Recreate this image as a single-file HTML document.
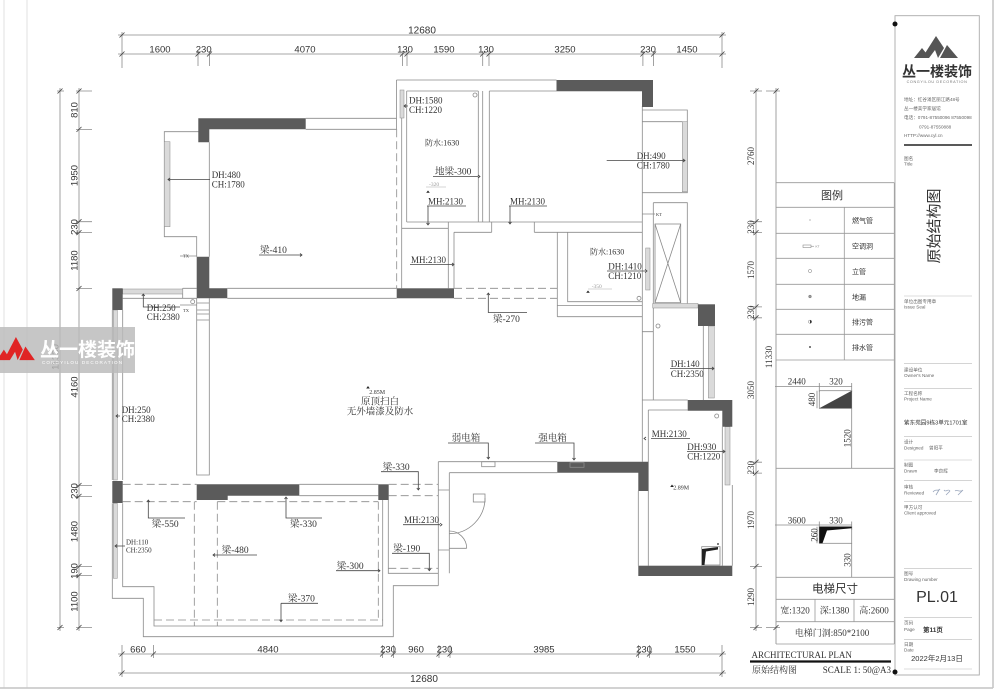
<!DOCTYPE html>
<html><head><meta charset="utf-8">
<style>
html,body{margin:0;padding:0;background:#fff;}
svg{display:block;}
.l{stroke:#8a8a8a;stroke-width:0.8;fill:none;}
.d{stroke:#8a8a8a;stroke-width:0.8;fill:none;stroke-dasharray:8 4;}
.k{stroke:#444;stroke-width:0.8;fill:none;}
.w{fill:#5b5b5b;}
.g{fill:#dadada;stroke:#8a8a8a;stroke-width:0.5;}
.ds{font-family:"Liberation Sans","Noto Sans CJK SC",sans-serif;font-size:9.5px;fill:#333;}
.sr{font-family:"Liberation Serif","Noto Serif CJK SC",serif;font-size:9px;fill:#333;}
.cj{font-family:"Liberation Sans","Noto Sans CJK SC",sans-serif;fill:#333;}
.tb{font-family:"Liberation Sans","Noto Sans CJK SC",sans-serif;font-size:4.6px;fill:#666;}
</style></head><body>
<svg width="1000" height="700" viewBox="0 0 1000 700" xmlns="http://www.w3.org/2000/svg">
<rect width="1000" height="700" fill="#fff"/>
<!-- page frame -->
<line x1="4" y1="0" x2="4" y2="688" stroke="#d4d4d4" stroke-width="0.7"/>
<line x1="27" y1="0" x2="27" y2="688" stroke="#d4d4d4" stroke-width="0.7"/>
<line x1="0" y1="688" x2="993" y2="688" stroke="#c4c4c4" stroke-width="1.5"/>
<line x1="993" y1="0" x2="993" y2="688" stroke="#c4c4c4" stroke-width="1.5"/>

<!-- ===== TOP DIMENSIONS ===== -->
<g class="l">
<path d="M118,35H726 M118,54H726 M122,32V68 M722,32V68 M198,51V66 M209.5,51V66 M402.5,51V66 M407,51V66 M482.7,51V66 M489,51V66 M642.9,51V66 M653.6,51V66"/>
</g>
<path class="k" d="M119.5,37.5L124.5,32.5 M719.5,37.5L724.5,32.5 M119.5,56.5L124.5,51.5 M195.5,56.5L200.5,51.5 M207,56.5L212,51.5 M400,56.5L405,51.5 M404.5,56.5L409.5,51.5 M480.2,56.5L485.2,51.5 M486.5,56.5L491.5,51.5 M640.4,56.5L645.4,51.5 M651.1,56.5L656.1,51.5 M719.5,56.5L724.5,51.5"/>
<g class="ds" text-anchor="middle">
<text x="422" y="33.5" font-size="10">12680</text>
<text x="160" y="52.5">1600</text>
<text x="203.7" y="52.5">230</text>
<text x="305" y="52.5">4070</text>
<text x="405" y="52.5">130</text>
<text x="444" y="52.5">1590</text>
<text x="486" y="52.5">130</text>
<text x="565" y="52.5">3250</text>
<text x="648" y="52.5">230</text>
<text x="687" y="52.5">1450</text>
</g>

<!-- ===== LEFT DIMENSIONS ===== -->
<g class="l">
<path d="M79,88V631 M60,88V631 M76,91H92 M76,129.4H92 M76,221.7H92 M76,232.6H92 M76,288.5H92 M76,485.5H92 M76,496.4H92 M76,566.5H92 M76,575.5H92 M76,627.5H92 M57,91H64 M57,627.5H64"/>
</g>
<path class="k" d="M76.5,93.5L81.5,88.5 M76.5,131.9L81.5,126.9 M76.5,224.2L81.5,219.2 M76.5,235.1L81.5,230.1 M76.5,291L81.5,286 M76.5,488L81.5,483 M76.5,498.9L81.5,493.9 M76.5,569L81.5,564 M76.5,578L81.5,573 M76.5,630L81.5,625 M57.5,93.5L62.5,88.5 M57.5,630L62.5,625"/>
<g class="ds" text-anchor="middle">
<text transform="translate(77.5,110) rotate(-90)">810</text>
<text transform="translate(77.5,175.5) rotate(-90)">1950</text>
<text transform="translate(77.5,227) rotate(-90)">230</text>
<text transform="translate(77.5,260.5) rotate(-90)">1180</text>
<text transform="translate(77.5,387) rotate(-90)">4160</text>
<text transform="translate(77.5,491) rotate(-90)">230</text>
<text transform="translate(77.5,531.5) rotate(-90)">1480</text>
<text transform="translate(77.5,571) rotate(-90)">190</text>
<text transform="translate(77.5,601.5) rotate(-90)">1100</text>
<text transform="translate(58.5,357) rotate(-90)">11330</text>
</g>

<!-- ===== RIGHT DIMENSIONS ===== -->
<g class="l">
<path d="M756,88V631 M776,88V644 M750,91H762 M750,221.7H762 M750,232.6H762 M750,306.9H762 M750,317.8H762 M750,462.2H762 M750,473.1H762 M750,566.4H762 M750,627.5H762 M766,91H780 M766,627.5H780"/>
</g>
<path class="k" d="M753.5,93.5L758.5,88.5 M753.5,224.2L758.5,219.2 M753.5,235.1L758.5,230.1 M753.5,309.4L758.5,304.4 M753.5,320.3L758.5,315.3 M753.5,464.7L758.5,459.7 M753.5,475.6L758.5,470.6 M753.5,568.9L758.5,563.9 M753.5,630L758.5,625 M773.5,93.5L778.5,88.5 M773.5,630L778.5,625"/>
<g class="sr" text-anchor="middle" font-size="9.5">
<text transform="translate(754,156) rotate(-90)">2760</text>
<text transform="translate(754,227) rotate(-90)">230</text>
<text transform="translate(754,270) rotate(-90)">1570</text>
<text transform="translate(754,312.3) rotate(-90)">230</text>
<text transform="translate(754,390) rotate(-90)">3050</text>
<text transform="translate(754,467.6) rotate(-90)">230</text>
<text transform="translate(754,520) rotate(-90)">1970</text>
<text transform="translate(754,597) rotate(-90)">1290</text>
<text transform="translate(772,357) rotate(-90)">11330</text>
</g>

<!-- ===== BOTTOM DIMENSIONS ===== -->
<g class="l">
<path d="M118,654H726 M118,673H726 M122,645V677 M722,645V677 M153.4,645V658 M382.6,645V658 M393.5,645V658 M439,645V658 M450,645V658 M638.6,645V658 M649.5,645V658"/>
</g>
<path class="k" d="M119.5,656.5L124.5,651.5 M150.9,656.5L155.9,651.5 M380.1,656.5L385.1,651.5 M391,656.5L396,651.5 M436.5,656.5L441.5,651.5 M447.5,656.5L452.5,651.5 M636.1,656.5L641.1,651.5 M647,656.5L652,651.5 M719.5,656.5L724.5,651.5 M119.5,675.5L124.5,670.5 M719.5,675.5L724.5,670.5"/>
<g class="ds" text-anchor="middle">
<text x="138" y="652.5">660</text>
<text x="268" y="652.5">4840</text>
<text x="388" y="652.5">230</text>
<text x="416" y="652.5">960</text>
<text x="444.5" y="652.5">230</text>
<text x="544" y="652.5">3985</text>
<text x="644" y="652.5">230</text>
<text x="685" y="652.5">1550</text>
<text x="424" y="682" font-size="10">12680</text>
</g>

<!-- ===== PLAN: thin lines ===== -->
<path class="l" d="
M305.7,118.3H396.5 M305.7,129.3H396.7 M396.5,80V129.3 M396.5,80H556.5 M401.7,90V288.3
M209.3,142.3V256.7 M199,131.7H164.3V236.7H196.7V256.7
M227.3,288.3H396.7 M227.3,298.3H396.7
M406.7,91H478.3 M406.7,91V222 M478.3,91V222 M482.7,91V222 M489.3,91H642.3 M489.3,91V222
M406.7,222H642.3 M401.7,228.3H448.3 M448.3,222V288.3 M454,232.3V288.3
M454,232.3H491.7 M534.3,232.3H557.3 M491.7,222V232.3 M534.3,222V232.3
M642.3,106V461.7
M642.3,110H687.3V192.7H642.3 M642.3,121.7H682.3
M653.3,202.7H687.3V303.5 M653.3,202.7V400 M642.3,214H655
M557.3,232.3H642.3 M557.3,232.3V316.7 M567.7,232.3V301.7H642.3 M557.3,305.5H642.3 M557.3,316.7H642.3
M642.3,331.7H653.3 M703.3,326V400 M642.3,400H687.7 M648.3,410H687.7
M648.3,410V565.7 M638.3,491V565.7 M722.3,426.7V565.7 M732.3,485V565.7
M438.3,461.7H557.3 M449.3,472.7H557.3 M438.3,461.7V585.7 M449.3,472.7V573.3 M438.3,490H449.3 M438.3,550H449.3
M196.7,298.3V475H209.3V298.3
M122.7,298.3H196.7 M182.7,288.3V298.3 M182.7,288.3H196.7
M112.3,310V480 M122.7,310V480 M112.3,503.3V578.3 M122.7,503.3V578.3
M112.3,578.3V598.3H143.3V636.7H393.3V585.7H438.3
M122.7,578.3V586.7H154V626H382.7V500
M388.3,500V573.3H438.3
M299.3,484.3H378.3 M299.3,495.7H378.3
M196.7,303H209.3 M196.7,310H209.3 M196.7,314H209.3 M196.7,320H209.3
M180,256H196.7 M180,305H196.7
"/>
<!-- shaft -->
<rect class="l" x="655" y="224" width="25.7" height="78.7"/>
<path class="l" d="M655,224L680.7,302.7 M680.7,224L655,302.7"/>
<!-- dashed beams -->
<path class="d" d="
M396.7,129.3V288.3 M454,288.3H557.3 M454,298.3H557.3
M122.7,484.3H196.7 M122.7,501.7H196.7 M388.7,484.3H438.3 M388.7,495.7H438.3
M194.3,501.7V626 M217.3,501.7V626 M217.3,501.7H378.3 M378.3,501.7V620 M154,620H382.7
M388.3,568.3H438.3"/>
<!-- windows -->
<g class="g">
<rect x="164.3" y="141.7" width="5.7" height="85"/>
<rect x="400" y="90" width="4" height="28"/>
<rect x="682.3" y="121.7" width="5" height="70"/>
<rect x="645.7" y="248" width="4.3" height="42"/>
<rect x="652.7" y="303.5" width="45.3" height="4.5"/>
<rect x="708.3" y="326" width="6" height="72"/>
<rect x="725" y="426.7" width="5" height="58.3"/>
<rect x="122.7" y="289" width="60" height="5"/>
<rect x="113.3" y="310" width="4" height="170"/>
<rect x="113.3" y="503.3" width="4" height="75"/>
</g>
<!-- dark walls -->
<g class="w">
<polygon points="198.3,118.3 305.7,118.3 305.7,129.3 209.3,129.3 209.3,142.3 198.3,142.3"/>
<polygon points="196.7,256.7 209.3,256.7 209.3,288.3 227.3,288.3 227.3,298.3 196.7,298.3"/>
<rect x="112.3" y="288.3" width="10.4" height="21.7"/>
<rect x="396.7" y="288.3" width="57.3" height="10"/>
<polygon points="556.5,80 653,80 653,107 642,107 642,91 556.5,91"/>
<rect x="698" y="304.3" width="17" height="21.7"/>
<polygon points="687.7,400 732.3,400 732.3,426.7 722.3,426.7 722.3,410.7 687.7,410.7"/>
<polygon points="557.3,461.7 648.3,461.7 648.3,491 638.3,491 638.3,472.7 557.3,472.7"/>
<rect x="638.3" y="565.7" width="94" height="10.3"/>
<rect x="112.3" y="481" width="10.4" height="22"/>
<polygon points="196.7,484.3 299.3,484.3 299.3,495.7 227.7,495.7 227.7,500 196.7,500"/>
<rect x="378.3" y="484.3" width="10.4" height="15.7"/>
</g>
<!-- door -->
<rect class="l" x="473.3" y="494" width="11.7" height="8"/>
<path class="l" d="M485,498 A35.7,35.7 0 0 1 449.3,533.7 M466.7,548.3 A17.4,17.4 0 0 0 449.3,531 M449.3,548.3H466.7"/>
<!-- circles / boxes -->
<g class="l">
<circle cx="475" cy="95" r="2"/>
<circle cx="639" cy="298.3" r="2"/>
<circle cx="658" cy="326" r="2"/>
<circle cx="716.7" cy="416" r="2"/>
<circle cx="192.7" cy="301.7" r="2"/>
<rect x="481.7" y="461.7" width="13.3" height="5"/>
<rect x="570" y="462.7" width="14" height="4.6"/>
<rect x="701.7" y="546.7" width="18.3" height="18.3"/>
</g>
<polygon points="702,565 702,549 718,547 718,549.5 706,551.5 704.5,565" fill="#222"/>
<circle cx="718" cy="544" r="0.9" fill="#222"/>

<!-- leaders and arrows -->
<path class="k" stroke-width="0.6" d="
M168,179.5H210 M170,178L168,179.5L170,181
M404,106H408 M406,104.5L404,106L406,107.5
M433,176.5H478 M478,175L480,176.5L478,178
M427,206H466 M428,206V225 M426.5,223L428,225L429.5,223
M259,255H302 M300,253.5L302,255L300,256.5
M410,264.5H453 M452,263L454,264.5L452,266
M509,206H547 M510,206V224 M508.5,222L510,224L511.5,222
M606.7,160.5H685 M683,159L685,160.5L683,162
M607,271H645 M645,269.5L647,271L645,272.5
M488.3,293V312.5H527 M486.8,295L488.3,293L489.8,295
M143.3,294V307H180 M141.8,296L143.3,294L144.8,296
M116,416H120 M118,414.5L116,416L118,417.5
M448,443H488.3V459 M486.8,457L488.3,459L489.8,457
M535,443H574V460 M572.5,458L574,460L575.5,458
M670,368.5H714 M712,367L714,368.5L712,370
M651,438.5H690 M646,437L644,438.5L646,440
M687,451.5H725 M723,450L725,451.5L723,453
M381,471.7H418.3V490 M416.8,488L418.3,490L419.8,488
M148.3,500V518H185 M146.8,502L148.3,500L149.8,502
M286,497V518H322 M284.5,499L286,497L287.5,499
M115,546H125 M117,544.5L115,546L117,547.5
M403,524.7H440 M440,523.2L442,524.7L440,526.2
M213,555H257 M215,553.5L213,555L215,556.5
M392,553.3H429.3V570.7 M427.8,568.7L429.3,570.7L430.8,568.7
M336,570.7H380 M378,569.2L380,570.7L378,572.2
M281,603.3H318 M281,603.3V621.7 M279.5,619.7L281,621.7L282.5,619.7
"/>
<path d="M428,190.5l-1.8,2.2h3.6z M588,290.5l-1.8,2.2h3.6z M368,386l-1.8,2.5h3.6z M672,484.5l-1.8,2.5h3.6z" fill="#222"/>
<line x1="426" y1="187" x2="446" y2="187" stroke="#aaa" stroke-width="0.5"/>
<line x1="588" y1="289" x2="612" y2="289" stroke="#aaa" stroke-width="0.5"/>

<!-- plan labels -->
<g class="sr">
<text x="211.7" y="178">DH:480</text><text x="211.7" y="187.5">CH:1780</text>
<text x="409" y="103.5">DH:1580</text><text x="409" y="113">CH:1220</text>
<text x="425" y="145.5" font-size="8">防水:1630</text>
<text x="435" y="174.5" font-size="9.5">地梁-300</text>
<text x="429" y="186" font-size="5.5" fill="#999">-320</text>
<text x="428" y="204.5">MH:2130</text>
<text x="260" y="253" font-size="9.5">梁-410</text>
<text x="411" y="263">MH:2130</text>
<text x="510" y="204.5">MH:2130</text>
<text x="636.7" y="159">DH:490</text><text x="636.7" y="168.5">CH:1780</text>
<text x="590" y="254.5" font-size="8">防水:1630</text>
<text x="608.3" y="269.5">DH:1410</text><text x="608.3" y="279">CH:1210</text>
<text x="591.7" y="288" font-size="5.5" fill="#999">-350</text>
<text x="493" y="322" font-size="9.5">梁-270</text>
<text x="146.7" y="311">DH:250</text><text x="146.7" y="320">CH:2380</text>
<text x="369.3" y="394" font-size="6">2.85M</text>
<text x="380" y="404.5" font-size="9.5" text-anchor="middle">原顶扫白</text>
<text x="380" y="414.5" font-size="9.5" text-anchor="middle">无外墙漆及防水</text>
<text x="121.7" y="413">DH:250</text><text x="121.7" y="422">CH:2380</text>
<text x="451.7" y="441" font-size="9.5">弱电箱</text>
<text x="538.3" y="441" font-size="9.5">强电箱</text>
<text x="670.7" y="367">DH:140</text><text x="670.7" y="377">CH:2350</text>
<text x="651.7" y="437">MH:2130</text>
<text x="687.3" y="450">DH:930</text><text x="687.3" y="459.7">CH:1220</text>
<text x="673.3" y="489.7" font-size="6">2.89M</text>
<text x="382.7" y="470" font-size="9.5">梁-330</text>
<text x="151.7" y="527" font-size="9.5">梁-550</text>
<text x="290" y="527" font-size="9.5">梁-330</text>
<text x="126" y="544.5" font-size="7">DH:110</text><text x="126" y="552.5" font-size="7">CH:2350</text>
<text x="404" y="523">MH:2130</text>
<text x="221.7" y="553" font-size="9.5">梁-480</text>
<text x="393.3" y="551.5" font-size="9.5">梁-190</text>
<text x="336.7" y="569" font-size="9.5">梁-300</text>
<text x="288" y="601.5" font-size="9.5">梁-370</text>
<text x="656" y="216" font-size="4.5">KT</text>
<text x="183" y="257.5" font-size="4.5">TX</text>
<text x="183" y="312" font-size="4.5">TX</text>
</g>

<!-- ===== LEGEND TABLE ===== -->
<g stroke="#999" stroke-width="0.8" fill="none">
<path d="M776,182.7H894.3 M776,207.3H894.3 M776,233.3H894.3 M776,258.3H894.3 M776,284.3H894.3 M776,309.3H894.3 M776,334.3H894.3 M776,360H894.3 M844.3,207.3V360 M894.3,182.7V644
M776,468.3H894.3 M776,577.3H894.3 M776,599.3H894.3 M776,621.7H894.3 M776,644H894.3 M815,599.3V621.7 M854,599.3V621.7"/>
</g>
<text class="cj" x="832" y="199" font-size="11" text-anchor="middle">图例</text>
<g class="cj" font-size="7">
<text x="852" y="223">燃气管</text>
<text x="852" y="248.5">空调洞</text>
<text x="852" y="274">立管</text>
<text x="852" y="299.5">地漏</text>
<text x="852" y="324.5">排污管</text>
<text x="852" y="350">排水管</text>
</g>
<g stroke="#777" stroke-width="0.5" fill="none">
<line x1="809" y1="220" x2="811" y2="220"/>
<rect x="803" y="245" width="8" height="2.5"/>
<line x1="811" y1="246.2" x2="814" y2="246.2"/>
<circle cx="810" cy="271" r="1.6"/>
<circle cx="810" cy="296.5" r="1.4" fill="#999"/>
<circle cx="810" cy="321.7" r="1.6"/>
</g>
<path d="M810,320.1A1.6,1.6 0 0 1 810,323.3Z" fill="#333"/>
<circle cx="810" cy="347" r="1" fill="#555"/>
<text x="815.5" y="247.5" font-size="3" fill="#777" font-family="Liberation Sans,sans-serif">KT</text>

<!-- elevator diagrams -->
<g class="l">
<path d="M775,386.5H852 M819.3,383V392 M851.7,383V392 M817,390.7V408.3 M851.7,408.3V468.3 M775,525H852 M819.3,521.5V530 M851.7,521.5V530 M817,526.7V543.3 M851.7,543.3V577.3"/>
<rect x="819.3" y="390.7" width="32.4" height="17.6"/>
<rect x="819.3" y="526.7" width="32.4" height="16.6"/>
</g>
<polygon points="819.3,408.3 851.7,390.7 851.7,408.3" fill="#444"/>
<polygon points="819.3,526.7 851.7,526.7 851.7,528.2 827,530.5 822.5,543.3 819.3,543.3" fill="#111"/>
<g class="sr" font-size="9.5">
<text x="796.7" y="384.5" text-anchor="middle">2440</text>
<text x="836" y="384.5" text-anchor="middle">320</text>
<text x="796.7" y="523.5" text-anchor="middle">3600</text>
<text x="836" y="523.5" text-anchor="middle">330</text>
<text transform="translate(815,399.5) rotate(-90)" text-anchor="middle">480</text>
<text transform="translate(850.3,438.3) rotate(-90)" text-anchor="middle">1520</text>
<text transform="translate(817.5,535) rotate(-90)" text-anchor="middle">260</text>
<text transform="translate(850.3,560) rotate(-90)" text-anchor="middle">330</text>
</g>
<text class="cj" x="835" y="592.5" font-size="11.5" text-anchor="middle">电梯尺寸</text>
<g class="sr" font-size="8.5" text-anchor="middle">
<text x="795" y="613.5">宽:1320</text>
<text x="834.5" y="613.5">深:1380</text>
<text x="874" y="613.5">高:2600</text>
<text x="832" y="636">电梯门洞:850*2100</text>
</g>
<text class="sr" x="751.5" y="658" font-size="7.5">ARCHITECTURAL PLAN</text>
<line x1="750" y1="661.5" x2="891" y2="661.5" stroke="#111" stroke-width="2.2"/>
<text class="sr" x="752" y="673" font-size="8">原始结构图</text>
<text class="sr" x="891" y="673" font-size="7.5" text-anchor="end">SCALE 1: 50@A3</text>

<!-- ===== TITLE BLOCK ===== -->
<rect x="895" y="15.7" width="84.3" height="659.3" fill="none" stroke="#aaa" stroke-width="0.9"/>
<circle cx="895" cy="24" r="2.5" fill="#111"/>
<circle cx="895" cy="672" r="2.5" fill="#111"/>
<g transform="translate(914,36)" fill="#555">
<path d="M0,22 L8,12 L12,17 L8,22 Z M8,22 L22,0 L30,12 L24,22 L21,14 L15,22 Z M26,22 L33,9 L44,22 Z"/>
</g>
<text class="cj" x="937" y="76.5" font-size="14" font-weight="bold" fill="#555" text-anchor="middle">丛一楼装饰</text>
<text x="937" y="83" font-family="Liberation Sans,sans-serif" font-size="3.8" fill="#777" text-anchor="middle" letter-spacing="0.6">CONGYILOU DECORATION</text>
<g class="tb" fill="#555">
<text x="904" y="101">地址：红谷滩区丽江路48号</text>
<text x="904" y="110">丛一楼美学家居馆</text>
<text x="904" y="119">电话：0791-87550096 87550098</text>
<text x="919" y="128.5">0791-87550888</text>
<text x="904" y="137">HTTP://www.cyl.cn</text>
</g>
<line x1="904" y1="145" x2="972" y2="145" stroke="#222" stroke-width="1.6"/>
<g stroke="#bbb" stroke-width="0.6">
<path d="M904,296H972 M904,363.3H972 M904,388.3H972 M904,436.7H972 M904,460H972 M904,480.7H972 M904,501.7H972 M904,568.3H972 M904,617.7H972 M904,639.3H972 M904,669H972"/>
</g>
<g class="tb">
<text x="904" y="160">图名</text><text x="904" y="165.5">Title</text>
<text x="904" y="303">单位出图专用章</text><text x="904" y="308.5">Issue Seal</text>
<text x="904" y="371.5">建设单位</text><text x="904" y="377">Owner's Name</text>
<text x="904" y="395">工程名称</text><text x="904" y="400.5">Project Name</text>
<text x="904" y="443.5">设计</text><text x="904" y="449.5">Designed</text><text x="929" y="449.5">曾阳平</text>
<text x="904" y="466.5">制图</text><text x="904" y="472.5">Drawn</text><text x="934" y="472.5">李良辉</text>
<text x="904" y="488.5">审核</text><text x="904" y="494.5">Reviewed</text>
<text x="904" y="509">甲方认可</text><text x="904" y="514.5">Client approved</text>
<text x="904" y="575">图号</text><text x="904" y="581">Drawing number</text>
<text x="904" y="624.5">页码</text><text x="904" y="631">Page</text>
<text x="904" y="646">日期</text><text x="904" y="651.5">Date</text>
</g>
<text class="cj" x="904" y="424.5" font-size="5.6" fill="#555">紫东苑园9栋3单元1701室</text>
<text class="cj" x="939" y="226" font-size="15" fill="#444" text-anchor="middle" transform="rotate(-90 939 226)">原始结构图</text>
<path d="M933,492c3,-4 5,0 7,-3 M936,495l3,-5 M944,490c2,3 4,-2 6,1 M946,495l4,-4 M955,491c2,-2 5,2 8,-1 M958,495l5,-5" stroke="#9aa6bc" stroke-width="0.8" fill="none"/>
<text x="937" y="602" font-family="Liberation Sans,sans-serif" font-size="16" fill="#333" text-anchor="middle">PL.01</text>
<text class="cj" x="923" y="632" font-size="6.5" font-weight="bold" fill="#333">第11页</text>
<text class="cj" x="937" y="661" font-size="7.5" fill="#333" text-anchor="middle">2022年2月13日</text>

<!-- ===== WATERMARK ===== -->
<rect x="0" y="327" width="135" height="46" fill="#b9b9b9" opacity="0.82"/>
<g transform="translate(-3,337) scale(0.86,1.05)" fill="#e02424">
<path d="M0,22 L8,12 L12,17 L8,22 Z M8,22 L22,0 L30,12 L24,22 L21,14 L15,22 Z M26,22 L33,9 L44,22 Z"/>
</g>
<text class="cj" x="40" y="356" font-size="19" font-weight="bold" fill="#fff" style="fill:#fff">丛一楼装饰</text>
<text x="42" y="364" font-family="Liberation Sans,sans-serif" font-size="4.6" fill="#fff" letter-spacing="1.1">CONGYILOU DECORATION</text>
</svg>
</body></html>
